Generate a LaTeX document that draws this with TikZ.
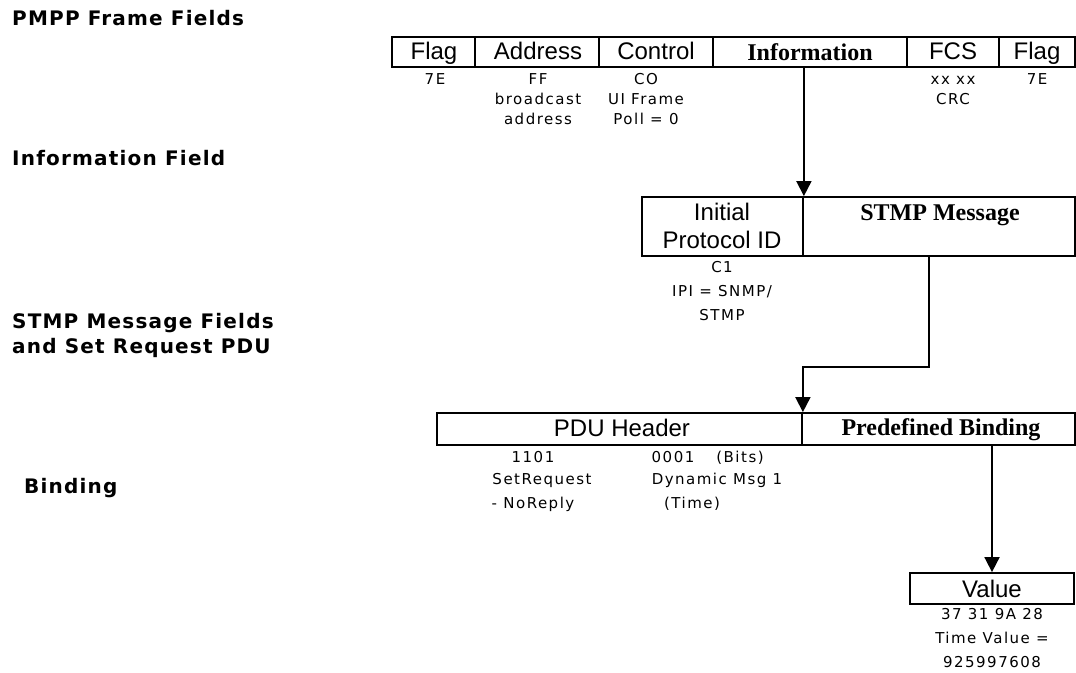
\documentclass[tikz,border=0pt]{standalone}
\usepackage{fontspec}
\setmainfont{Liberation Sans}
\newfontfamily\serifb{Liberation Serif}
\newfontfamily\smallf{DejaVu Sans}[LetterSpace=10]
\newfontfamily\headf{DejaVu Sans}[LetterSpace=6]
\usetikzlibrary{arrows.meta}
\begin{document}
\begin{tikzpicture}[x=1pt,y=-1pt,
 box/.style={draw,line width=1.8pt,inner sep=0pt},
 ftxt/.style={anchor=base,inner sep=0pt,font=\fontsize{24}{27}\selectfont},
 btxt/.style={anchor=base,inner sep=0pt,font=\serifb\bfseries\fontsize{24}{27}\selectfont},
 lab/.style={anchor=base,inner sep=0pt,font=\smallf\fontsize{15}{20}\selectfont},
 head/.style={anchor=base west,inner sep=0pt,font=\headf\bfseries\fontsize{20}{25}\selectfont},
 arr/.style={line width=1.8pt,-{Triangle[width=15pt,length=15pt]}},
 conn/.style={line width=1.8pt}]
\useasboundingbox (0,0) rectangle (1076,672);

% headings
\node[head] (h1) at (12,25) {PMPP Frame Fields};
\node[head] (h2) at (12,165) {Information Field};
\node[head] (h3) at (12,328) {STMP Message Fields};
\node[head] (h4) at (12,353) {and Set Request PDU};
\node[head] (h5) at (24,493) {Binding};

% PMPP frame
\node[box,minimum width=83pt,minimum height=30pt] (flag1) at (433.5,52) {};
\node[box,minimum width=124pt,minimum height=30pt] (addr) at (537,52) {};
\node[box,minimum width=114pt,minimum height=30pt] (ctrl) at (656,52) {};
\node[box,minimum width=194pt,minimum height=30pt] (info) at (810,52) {};
\node[box,minimum width=92pt,minimum height=30pt] (fcs) at (953,52) {};
\node[box,minimum width=76pt,minimum height=30pt] (flag2) at (1037,52) {};
\node[ftxt] (tflag1) at (434,59) {Flag};
\node[ftxt] (taddr) at (538,59) {Address};
\node[ftxt] (tctrl) at (656,59) {Control};
\node[btxt] (tinfo) at (810,60) {Information};
\node[ftxt] (tfcs) at (953,59) {FCS};
\node[ftxt] (tflag2) at (1037,59) {Flag};

\node[lab] (l1) at (435,84) {7E};
\node[lab] (l2) at (538,84) {FF};
\node[lab] (l3) at (538,104) {broadcast};
\node[lab] (l4) at (538,124) {address};
\node[lab] (l5) at (646,84) {CO};
\node[lab] (l6) at (646,104) {UI Frame};
\node[lab] (l7) at (646,124) {Poll = 0};
\node[lab] (l8) at (953,84) {xx xx};
\node[lab] (l9) at (953,104) {CRC};
\node[lab] (l10) at (1037,84) {7E};

% Information field
\node[box,minimum width=161pt,minimum height=59pt] (ipi) at (722.5,226.5) {};
\node[box,minimum width=272pt,minimum height=59pt] (stmp) at (939,226.5) {};
\node[ftxt] (tipi1) at (722,220) {Initial};
\node[ftxt] (tipi2) at (722,248) {Protocol ID};
\node[btxt] (tstmp) at (940,220) {STMP Message};
\node[lab] (l11) at (722,272) {C1};
\node[lab] (l12) at (722,296) {IPI = SNMP/};
\node[lab] (l13) at (722,320) {STMP};

% STMP message fields
\node[box,minimum width=365pt,minimum height=32pt] (pdu) at (619.5,429) {};
\node[box,minimum width=273pt,minimum height=32pt] (pb) at (938.5,429) {};
\node[ftxt] (tpdu) at (622,436) {PDU Header};
\node[btxt] (tpb) at (941,435) {Predefined Binding};
\node[lab] (l14) at (533,462) {1101};
\node[lab] (l15) at (542,484) {SetRequest};
\node[lab] (l16) at (533,508) {- NoReply};
\node[lab] (l17) at (673,462) {0001};
\node[lab] (l18) at (740,462) {(Bits)};
\node[lab] (l19) at (717,484) {Dynamic Msg 1};
\node[lab] (l20) at (692,508) {(Time)};

% Binding
\node[box,minimum width=164pt,minimum height=31pt] (val) at (992,588.5) {};
\node[ftxt] (tval) at (992,597) {Value};
\node[lab] (l21) at (992,619) {37 31 9A 28};
\node[lab] (l22) at (992,643) {Time Value =};
\node[lab] (l23) at (992,667) {925997608};

% connectors
\coordinate (c1) at (929,367);
\draw[arr] (info.south -| ipi.north east) -- (ipi.north east);
\draw[arr] (stmp.south -| c1) -- (c1) -| (pdu.north east);
\draw[arr] (pb.south -| val.north) -- (val.north);
\end{tikzpicture}
\end{document}
